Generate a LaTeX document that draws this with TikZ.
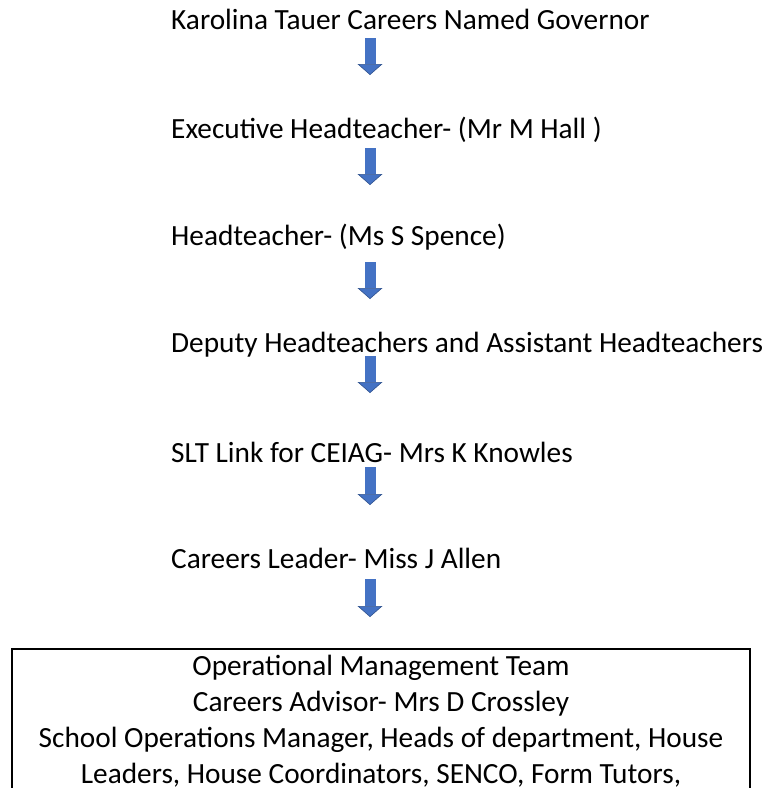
\documentclass[tikz,border=0pt]{standalone}
\usepackage{fontspec}
\setmainfont{Carlito}
\usetikzlibrary{arrows.meta}

\definecolor{arrowblue}{HTML}{4472C4}
\definecolor{arrowedge}{HTML}{2F528F}

\tikzset{
  rolelabel/.style={anchor=base west, inner sep=0pt, font=\fontsize{29.3}{37}\selectfont},
  teambox/.style={draw, line width=2pt, anchor=north, minimum width=738pt,
    align=center, inner ysep=6pt, font=\fontsize{29.3}{36}\selectfont},
  blockarrow/.style={arrowblue, line width=11pt,
    -{Triangle[width=25pt,length=11pt,line width=0.6pt,fill=arrowblue,color=arrowedge]}}
}

\begin{document}
\begin{tikzpicture}[x=1pt,y=-1pt]
        \path[use as bounding box, clip] (0,0) rectangle (767,788);
        \def\xtext{171} \def\xarrow{370}

        \node (gov) at (\xtext,29) [rolelabel] {Karolina Tauer Careers Named Governor};
        \node (exec) at (\xtext,138) [rolelabel] {Executive Headteacher- (Mr M Hall )};
        \node (head) at (\xtext,245) [rolelabel] {Headteacher- (Ms S Spence)};
        \node (deputy) at (\xtext,352) [rolelabel] {Deputy Headteachers and Assistant Headteachers};
        \node (slt) at (\xtext,462) [rolelabel] {SLT Link for CEIAG- Mrs K Knowles};
        \node (leader) at (\xtext,568) [rolelabel] {Careers Leader- Miss J Allen};

        \node (team) at (381,648) [teambox] {Operational Management Team\\
          Careers Advisor- Mrs D Crossley\\
          School Operations Manager, Heads of department, House\\
          Leaders, House Coordinators, SENCO, Form Tutors,\\
          \strut};

        % block arrows between the levels
        \foreach \i/\ytop/\ytip in {1/38/75, 2/148/185, 3/262/299, 4/356/393, 5/467/505, 6/579/617}{
          \coordinate (top\i) at (\xarrow,\ytop);
          \coordinate (tip\i) at (\xarrow,\ytip);
          \draw[blockarrow] (top\i) -- (tip\i);
        }
      \end{tikzpicture}
\end{document}
